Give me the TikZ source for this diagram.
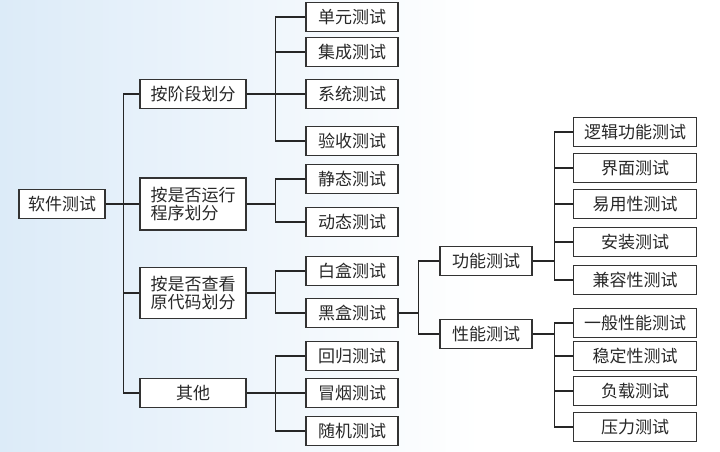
\documentclass[tikz,border=0pt]{standalone}
\usepackage{fontspec}
\setmainfont{Noto Sans CJK SC}
\usetikzlibrary{positioning,calc}
\definecolor{danlan}{RGB}{220,235,248}
\definecolor{zi}{RGB}{40,40,40}
\tikzset{
  kuang/.style={draw=black!80,line width=1.1pt,fill=white,text=zi,minimum height=29pt,inner sep=2pt,align=center},
  gen/.style={kuang,minimum width=86pt},
  lei/.style={kuang,minimum width=106pt},
  ye/.style={kuang,minimum width=92pt},
  kuan/.style={kuang,minimum width=123pt},
  xian/.style={draw=black!85,line width=1.2pt},
}
\begin{document}
\begin{tikzpicture}[x=1pt,y=-1pt,font=\fontsize{17}{18.5}\selectfont]
  \useasboundingbox (0,0) rectangle (720,451);
  \fill[white] (0,0) rectangle (720,451);
  \shade[left color=danlan,right color=white] (0,0) rectangle (480,451);
  % gen
  \node[gen] (rj) at (62,204) {软件测试};
  % fenlei
  \node[lei] (jd) at (193,94) {按阶段划分};
  \node[lei,minimum height=52pt,align=left] (yx) at (193,204) {按是否运行\\程序划分};
  \node[lei,minimum height=51pt,align=left] (dm) at (193,293) {按是否查看\\原代码划分};
  \node[lei] (qt) at (193,393) {其他};
  % ye
  \node[ye] (dy) at (352,17) {单元测试};
  \node[ye] (jc) at (352,52) {集成测试};
  \node[ye] (xt) at (352,94) {系统测试};
  \node[ye] (ys) at (352,141) {验收测试};
  \node[ye] (jt) at (352,179) {静态测试};
  \node[ye] (dt) at (352,222) {动态测试};
  \node[ye] (bh) at (352,271) {白盒测试};
  \node[ye] (hh) at (352,313) {黑盒测试};
  \node[ye] (hg) at (352,356) {回归测试};
  \node[ye] (my) at (352,393) {冒烟测试};
  \node[ye] (sj) at (352,431) {随机测试};
  % heihe
  \node[ye] (gn) at (486,261) {功能测试};
  \node[ye] (xn) at (486,334) {性能测试};
  \node[kuan] (lj) at (635,132) {逻辑功能测试};
  \node[kuan] (jm) at (635,168) {界面测试};
  \node[kuan] (yy) at (635,204) {易用性测试};
  \node[kuan] (az) at (635,242) {安装测试};
  \node[kuan] (jr) at (635,280) {兼容性测试};
  \node[kuan] (yb) at (635,323) {一般性能测试};
  \node[kuan] (wd) at (635,356) {稳定性测试};
  \node[kuan] (fz) at (635,391) {负载测试};
  \node[kuan] (yl) at (635,427) {压力测试};
  % lianxian
  \foreach \c in {jd,yx,dm,qt} \draw[xian] (rj.east) -- ++(18,0) |- (\c.west);
  \foreach \c in {dy,jc,xt,ys} \draw[xian] (jd.east) -- ++(29,0) |- (\c.west);
  \foreach \c in {jt,dt} \draw[xian] (yx.east) -- ++(29,0) |- (\c.west);
  \foreach \c in {bh,hh} \draw[xian] (dm.east) -- ++(29,0) |- (\c.west);
  \foreach \c in {hg,my,sj} \draw[xian] (qt.east) -- ++(29,0) |- (\c.west);
  \foreach \c in {gn,xn} \draw[xian] (hh.east) -- ++(20,0) |- (\c.west);
  \foreach \c in {lj,jm,yy,az,jr} \draw[xian] (gn.east) -- ++(22,0) |- (\c.west);
  \foreach \c in {yb,wd,fz,yl} \draw[xian] (xn.east) -- ++(22,0) |- (\c.west);
\end{tikzpicture}
\end{document}
